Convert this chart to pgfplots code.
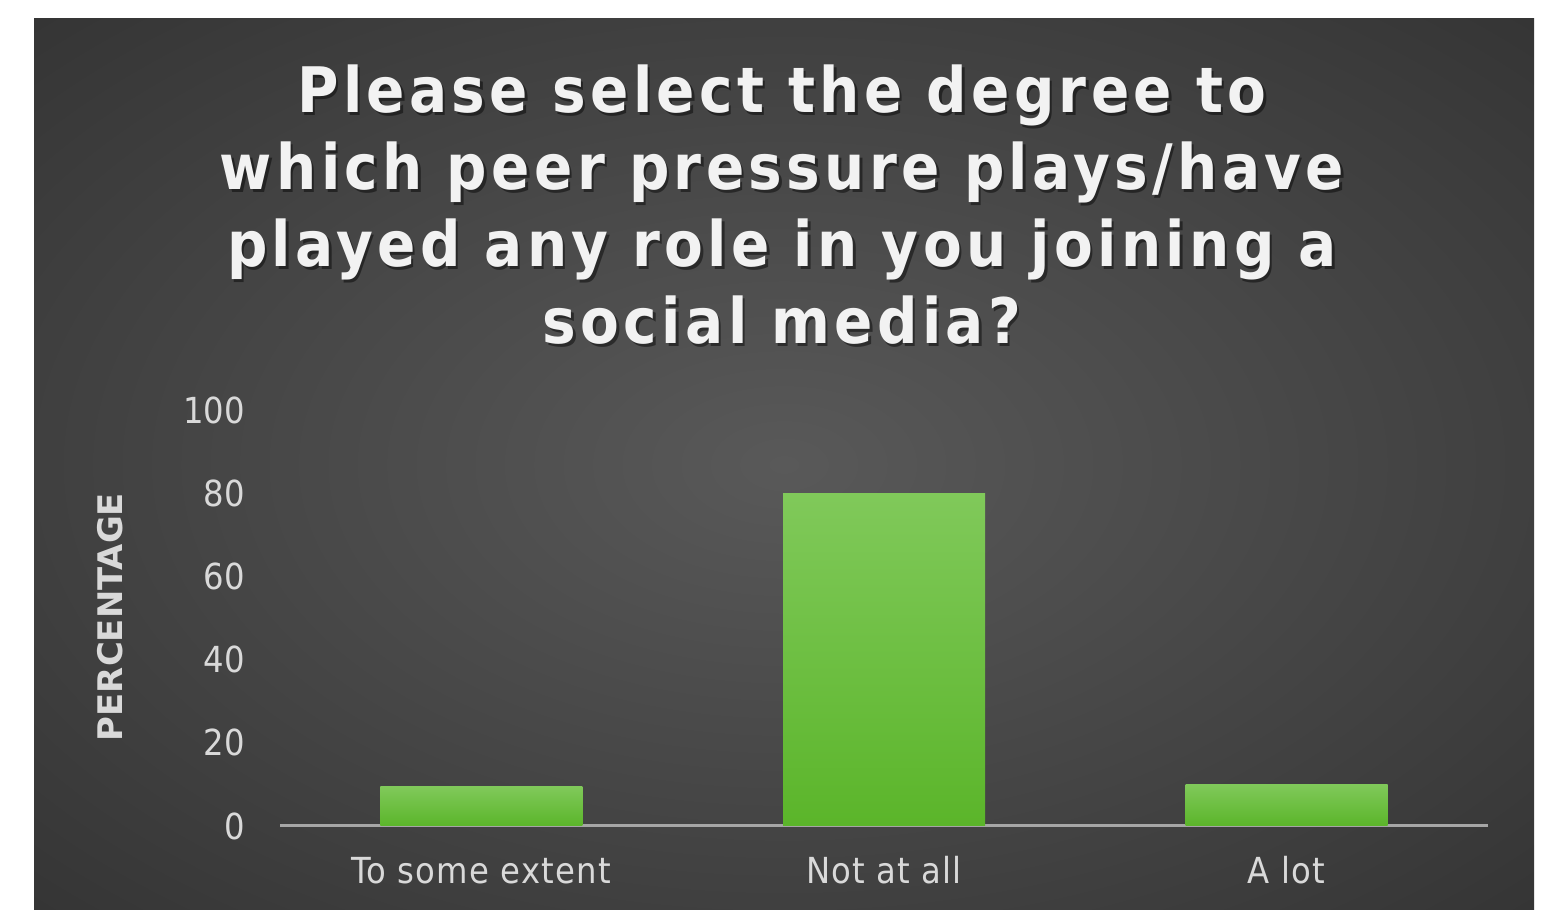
\documentclass[border=0pt]{standalone}
\usepackage{fontspec}
\setmainfont{DejaVu Sans Condensed}[BoldFont={DejaVu Sans Condensed Bold}]
\newfontfamily\titlefont{DejaVu Sans Condensed Bold}[LetterSpace=7]
\newfontfamily\tickfont{DejaVu Sans Condensed}[LetterSpace=3.5]
\newfontfamily\numfont{DejaVu Sans Condensed}
\newfontfamily\labfont{DejaVu Sans Bold}
\usepackage{pgfplots}
\pgfplotsset{compat=1.18}

\definecolor{bgin}{HTML}{595959}
\definecolor{bgout}{HTML}{262626}
\definecolor{barTop}{HTML}{80C95A}
\definecolor{barBot}{HTML}{5BB52A}
\definecolor{tickc}{HTML}{D9D9D9}
\definecolor{titlec}{HTML}{F2F2F2}
\definecolor{axc}{HTML}{A6A6A6}

\pgfdeclareradialshading{panel}{\pgfpoint{0bp}{0bp}}{color(0bp)=(bgin); color(50bp)=(bgout); color(80bp)=(bgout)}

\begin{document}
\begin{tikzpicture}
% page and dark panel
\fill[white] (0,0) rectangle (772bp,455bp);
\shade[shading=panel] (17bp,0) rectangle (767bp,445.5bp);

% title, one node per line, with a soft shadow
\foreach \y/\t in {398.5/{Please select the degree to},
                   360/{which peer pressure plays/have},
                   321.5/{played any role in you joining a},
                   283/{social media?}} {
  \node[anchor=base, inner sep=0, text=black, opacity=0.45]
    at (392.2bp,\y bp-1.4bp) {\fontsize{31.5}{38}\selectfont\titlefont \t};
  \node[anchor=base, inner sep=0, text=titlec]
    at (391bp,\y bp) {\fontsize{31.5}{38}\selectfont\titlefont \t};
}

% y axis title
\node[rotate=90, text=tickc, inner sep=0] at (55bp,146.5bp)
  {\fontsize{17}{20}\selectfont\labfont PERCENTAGE};

\begin{axis}[
    at={(140bp,42bp)}, anchor=south west,
    scale only axis, width=604bp, height=208bp,
    xmin=-0.5, xmax=2.5, ymin=0, ymax=100,
    xtick={0,1,2},
    xticklabels={To some extent, Not at all, A lot},
    ytick={0,20,...,100},
    axis x line=bottom, axis y line=left,
    y axis line style={draw=none},
    x axis line style={draw=axc, line width=1.5bp, -},
    major tick length=0,
    xticklabel style={font=\fontsize{18}{21}\selectfont\tickfont, text=tickc,
      anchor=base, yshift=-29bp},
    yticklabel style={font=\fontsize{18}{21}\selectfont\numfont, text=tickc,
      anchor=east, inner sep=0pt, xshift=-17.5bp},
    /pgf/number format/assume math mode=true,
    clip=false,
  ]
  \addplot[ybar, bar width=101bp, draw=none, top color=barTop, bottom color=barBot]
    coordinates {(0,9.5)};
  \addplot[ybar, bar width=101bp, draw=none, top color=barTop, bottom color=barBot]
    coordinates {(1,80)};
  \addplot[ybar, bar width=101bp, draw=none, top color=barTop, bottom color=barBot]
    coordinates {(2,10)};
\end{axis}
\end{tikzpicture}
\end{document}
